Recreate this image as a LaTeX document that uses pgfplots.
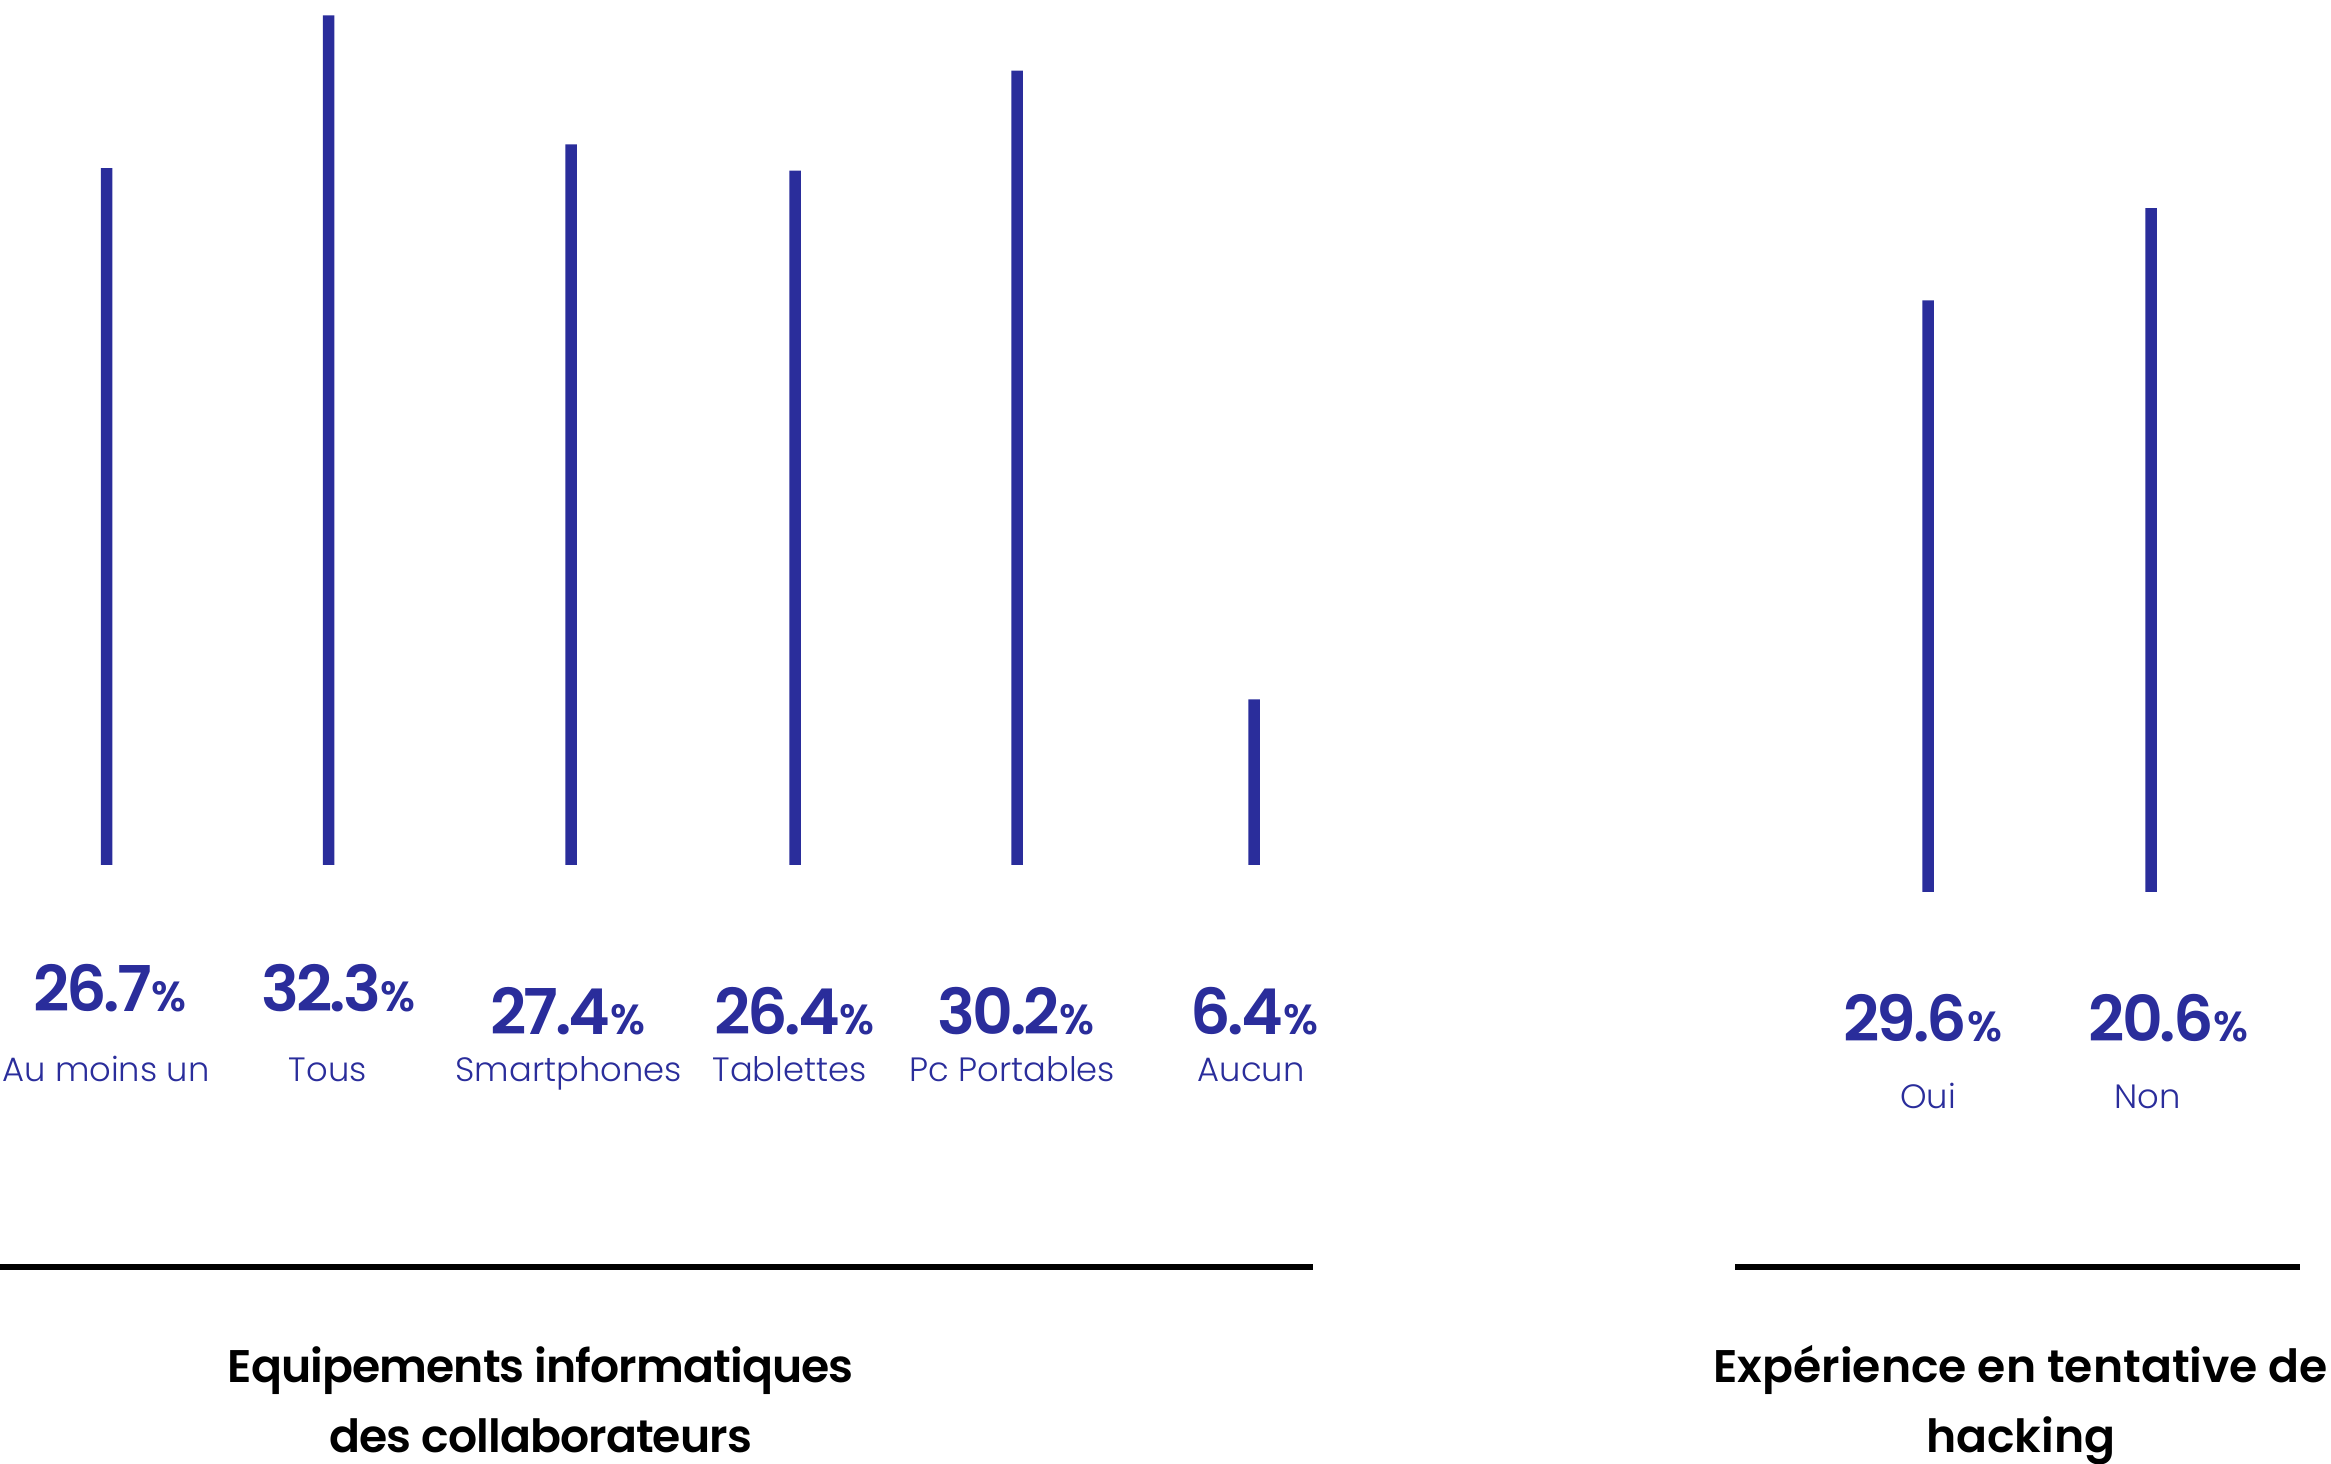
\documentclass[border=0pt]{standalone}
\usepackage{pgfplots}
\pgfplotsset{compat=1.18}
\usepackage{fontspec}
\setmainfont{Poppins}
\newfontfamily\plight{Poppins Light}
\newfontfamily\psemi{Poppins SemiBold}
\newfontfamily\psemitight{Poppins SemiBold}[LetterSpace=-5]
\newfontfamily\psemititle{Poppins SemiBold}[LetterSpace=-2]
\definecolor{barc}{RGB}{42,45,155}
\newcommand{\val}[1]{{\color{barc}\psemitight\fontsize{18}{18}\selectfont #1\fontsize{12}{12}\selectfont\%}}
\newcommand{\lab}[1]{{\color{barc}\plight\fontsize{9.6}{9.6}\selectfont #1}}
\newcommand{\ttl}[1]{{\psemi\fontsize{13}{13}\selectfont #1}}
\newcommand{\ttlt}[1]{{\psemititle\fontsize{13}{13}\selectfont #1}}
\begin{document}
\begin{tikzpicture}
\begin{axis}[at={(0,0)}, anchor=south west, scale only axis, width=23.31cm, height=14.64cm,
  xmin=0, xmax=2331, ymin=-22.776, ymax=32.89, hide axis, clip=false]
\addplot[ybar, bar width=1.15mm, bar shift=0pt, fill=barc, draw=none] coordinates {
  (106.5,26.5) (328.5,32.3) (571,27.4) (795,26.4) (1017,30.2) (1254,6.3)};
\end{axis}
\begin{axis}[at={(0,0)}, anchor=south west, scale only axis, width=23.31cm, height=14.64cm,
  xmin=0, xmax=2331, ymin=-21.75, ymax=33.92, hide axis, clip=false]
\addplot[ybar, bar width=1.15mm, bar shift=0pt, fill=barc, draw=none] coordinates {
  (1928,22.5) (2151,26.0)};
\end{axis}
\begin{scope}[yshift=14.64cm, x=0.01cm, y=-0.01cm]
\draw[line width=0.6mm] (0,1268) -- (1314,1268);
\draw[line width=0.6mm] (1736,1268) -- (2301,1268);
\node[anchor=base, inner sep=0] at (110,1012) {\val{26.7}};
\node[anchor=base, inner sep=0] at (339,1012) {\val{32.3}};
\node[anchor=base, inner sep=0] at (568,1035) {\val{27.4}};
\node[anchor=base, inner sep=0] at (795,1035) {\val{26.4}};
\node[anchor=base, inner sep=0] at (1017,1035) {\val{30.2}};
\node[anchor=base, inner sep=0] at (1255,1035) {\val{6.4}};
\node[anchor=base, inner sep=0] at (1924,1042) {\val{29.6}};
\node[anchor=base, inner sep=0] at (2170,1042) {\val{20.6}};
\node[anchor=base, inner sep=0] at (106,1082) {\lab{Au moins un}};
\node[anchor=base, inner sep=0] at (328,1082) {\lab{Tous}};
\node[anchor=base, inner sep=0] at (569,1082) {\lab{Smartphones}};
\node[anchor=base, inner sep=0] at (790,1082) {\lab{Tablettes}};
\node[anchor=base, inner sep=0] at (1013,1082) {\lab{Pc Portables}};
\node[anchor=base, inner sep=0] at (1252,1082) {\lab{Aucun}};
\node[anchor=base, inner sep=0] at (1929,1109) {\lab{Oui}};
\node[anchor=base, inner sep=0] at (2149,1109) {\lab{Non}};
\node[anchor=base, inner sep=0] at (541,1383) {\ttlt{Equipements informatiques}};
\node[anchor=base, inner sep=0] at (541,1453) {\ttlt{des collaborateurs}};
\node[anchor=base, inner sep=0] at (2022,1383) {\ttl{Expérience en tentative de}};
\node[anchor=base, inner sep=0] at (2022,1453) {\ttl{hacking}};
\end{scope}
\pgfresetboundingbox
\path (0,0) rectangle (23.31cm,14.64cm);
\end{tikzpicture}
\end{document}
